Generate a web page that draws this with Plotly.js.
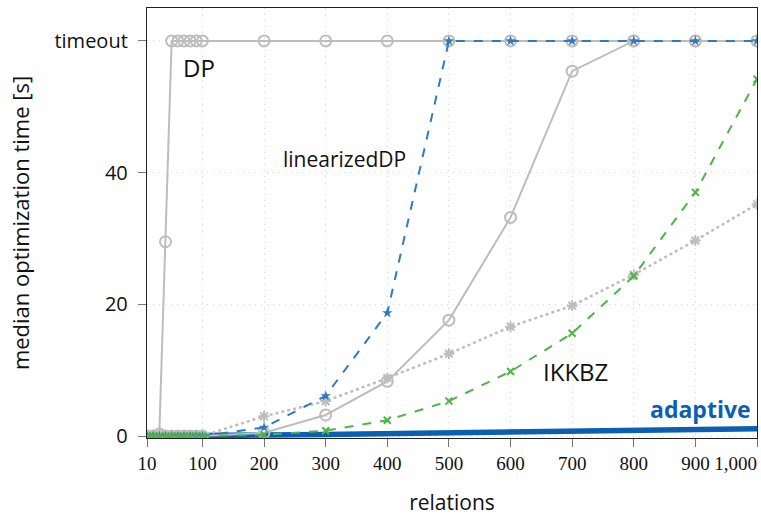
<!DOCTYPE html>
<html>
<head>
<meta charset="utf-8">
<script src="https://cdn.plot.ly/plotly-3.0.1.min.js"></script>
<style>html,body{margin:0;padding:0;background:#fff}#chart{width:761px;height:516px}</style>
</head>
<body>
<div id="chart"></div>
<script>
// relations (x values)
const relations = [10,20,30,40,50,60,70,80,90,100,200,300,400,500,600,700,800,900,1000];
// median optimization time [s]; 60 = timeout
const dpTime       = [0,0,0.3,29.5,60,60,60,60,60,60,60,60,60,60,60,60,60,60,60];
const grayTime     = [0,0,0,0,0,0,0,0,0,0,0.5,3.2,8.3,17.6,33.2,55.4,60,60,60];
const dottedTime   = [0,0,0,0,0,0,0,0,0,0,3.0,5.3,8.8,12.5,16.6,19.8,24.5,29.7,35.2];
const linDPTime    = [0,0,0,0,0,0,0,0,0,0,1.3,6.1,18.7,60,60,60,60,60,60];
const ikkbzTime    = [0,0,0,0,0,0,0,0,0,0,0.2,0.8,2.4,5.3,9.8,15.6,24.3,37.0,54.2];
const adaptiveTime = [0,0,0,0,0,0,0,0,0,0,0.15,0.25,0.35,0.45,0.55,0.7,0.8,0.95,1.1];

const xTicks = [10,100,200,300,400,500,600,700,800,900,1000];
const pad = '&nbsp;'.repeat(9);
const xTickText = ["10","100","200","300","400","500","600","700","800","900","1,000" + pad];
const yTicks = [0,20,40,60];
const yTickText = ["0","20","40","timeout"];

const gray = '#bdbdbd';
const traces = [
  {x: relations, y: adaptiveTime, mode:'lines', line:{color:'#0a5fb4', width:5.5}, name:'adaptive'},
  {x: relations, y: dpTime, mode:'lines+markers', line:{color:gray, width:2},
   marker:{symbol:'circle-open', size:11, color:gray, line:{width:2}}, name:'DP'},
  {x: relations, y: grayTime, mode:'lines+markers', line:{color:gray, width:2},
   marker:{symbol:'circle-open', size:11, color:gray, line:{width:2}}, name:'gray'},
  {x: relations, y: dottedTime, mode:'lines+markers', line:{color:gray, width:2.5, dash:'dot'},
   marker:{symbol:'asterisk-open', size:9, color:gray, line:{width:2, color:gray}}, name:'dotted'},
  {x: relations, y: linDPTime, mode:'lines+markers', line:{color:'#2f7bbd', width:2, dash:'dash'},
   marker:{symbol:'star', size:8, color:'#2f7bbd'}, name:'linearizedDP'},
  {x: relations, y: ikkbzTime, mode:'lines+markers', line:{color:'#4fb447', width:2, dash:'dash'},
   marker:{symbol:'x-thin-open', size:7, color:'#4fb447', line:{width:2, color:'#4fb447'}}, name:'IKKBZ'}
];

const layout = {
  width:761, height:516,
  margin:{l:147, r:4, t:8, b:78},
  showlegend:false,
  paper_bgcolor:'#fff', plot_bgcolor:'#fff',
  font:{family:'"Open Sans", "Noto Sans", sans-serif', size:20, color:'#111'},
  xaxis:{
    range:[10,1000], tickvals:xTicks, ticktext:xTickText, tickangle:0,
    tickfont:{family:'"Liberation Serif", "DejaVu Serif", serif', size:19, color:'#111'},
    ticklabeloverflow:'allow',
    ticks:'outside', ticklen:8, tickcolor:'#777', tickwidth:1,
    showline:true, mirror:true, linecolor:'#222', linewidth:1.2,
    showgrid:true, gridcolor:'#d4d4d4', griddash:'1px,5px', gridwidth:1,
    zeroline:false,
    title:{text:'relations', font:{size:21, color:'#111'}, standoff:28}
  },
  yaxis:{
    range:[-0.3,65], tickvals:yTicks, ticktext:yTickText,
    tickfont:{size:20, color:'#111'}, ticklabelstandoff:6,
    ticks:'outside', ticklen:8, tickcolor:'#777', tickwidth:1,
    showline:true, mirror:true, linecolor:'#222', linewidth:1.2,
    showgrid:true, gridcolor:'#d4d4d4', griddash:'1px,5px', gridwidth:1,
    zeroline:false,
    title:{text:'median optimization time [s]', font:{size:22, color:'#111'}, standoff:18}
  },
  annotations:[
    {x:94, y:55.9, xref:'x', yref:'y', text:'DP', showarrow:false, xanchor:'center', yanchor:'middle', font:{size:24, color:'#111'}},
    {x:331, y:42, xref:'x', yref:'y', text:'linearizedDP', showarrow:false, xanchor:'center', yanchor:'middle', font:{size:21, color:'#111'}},
    {x:705, y:9.8, xref:'x', yref:'y', text:'IKKBZ', showarrow:false, xanchor:'center', yanchor:'middle', font:{size:24, color:'#111'}},
    {x:993, y:4.1, xref:'x', yref:'y', text:'<b>adaptive</b>', showarrow:false, xanchor:'right', yanchor:'middle', font:{size:23, color:'#0a5fb4'}}
  ]
};

Plotly.newPlot('chart', traces, layout, {displayModeBar:false, staticPlot:true});
</script>
</body>
</html>
